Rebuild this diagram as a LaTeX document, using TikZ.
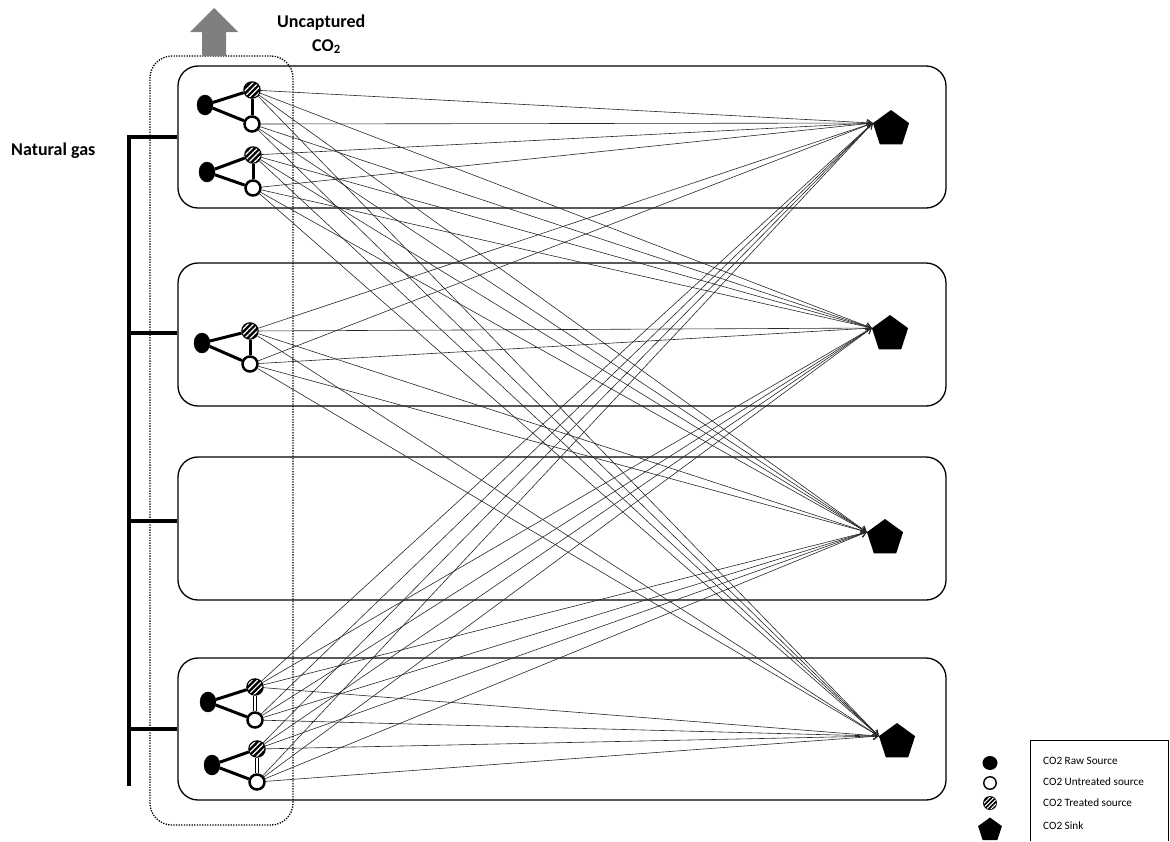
\documentclass[tikz,border=0pt]{standalone}
\usepackage{fontspec}
\setmainfont{Carlito}
\usetikzlibrary{arrows.meta,shapes.geometric,patterns.meta}
\definecolor{arrowgray}{HTML}{7F7F7F}
\begin{document}
\begin{tikzpicture}[x=1pt,y=-1pt,
  region/.style={draw,line width=1.3pt,rounded corners=20pt,minimum width=768pt,inner sep=0pt},
  capture/.style={draw,line width=1.3pt,dash pattern=on 1.3pt off 1.3pt,rounded corners=22pt,inner sep=0pt},
  raw/.style={ellipse,fill=black,draw=black,minimum width=16pt,minimum height=20pt,inner sep=0pt},
  untr/.style={circle,draw=black,fill=white,line width=2.5pt,minimum size=15pt,inner sep=0pt},
  trt/.style={circle,draw=black,line width=2.5pt,minimum size=15pt,inner sep=0pt,fill=black,
    postaction={pattern={Lines[angle=45,distance=3.8pt,line width=1.2pt]},pattern color=white}},
  sinkshape/.style={regular polygon,regular polygon sides=5,fill=black,minimum size=38pt,inner sep=0pt},
  link/.style={line width=3pt},
  dlink/.style={line width=1.3pt,double,double distance=1.6pt},
  flow/.style={line width=0.6pt,draw=black!85,-{Straight Barb[length=5pt,width=7pt]}},
  bus/.style={line width=3.8pt},
  bigtxt/.style={font=\bfseries\fontsize{18}{20}\selectfont,inner sep=0pt},
  legtxt/.style={font=\fontsize{11.2}{13}\selectfont,inner sep=0pt,anchor=west},
]
\useasboundingbox (0,0) rectangle (1170,841);

% regions
\node[region,minimum height=142pt] (box1) at (562,137) {};
\node[region,minimum height=143pt] (box2) at (562,334.5) {};
\node[region,minimum height=143pt] (box3) at (562,528.5) {};
\node[region,minimum height=142pt] (box4) at (562,729) {};

% capture boundary
\node[capture,minimum width=143pt,minimum height=769pt] (capt) at (221.5,440.5) {};
\fill[arrowgray] (202,56) -- (202,32) -- (190,32) -- (214,8) -- (238,32) -- (226,32) -- (226,56) -- cycle;
\node[bigtxt,anchor=base west] (unc1) at (277,27) {Uncaptured};
\node[bigtxt,anchor=base west] (unc2) at (312,51) {CO\textsubscript{2}};

% natural gas bus
\node[bigtxt,anchor=base west] (ng) at (11,155) {Natural gas};
\coordinate (g1) at (129,137);
\coordinate (g2) at (129,333);
\coordinate (g3) at (129,521);
\coordinate (g4) at (129,729);
\coordinate (gend) at (129,786);
\draw[bus] (box1.west |- g1) -- (g1) -- (gend);
\draw[bus] (g2) -- (box2.west |- g2);
\draw[bus] (g3) -- (box3.west |- g3);
\draw[bus] (g4) -- (box4.west |- g4);

% sources
\node[raw] (rA1) at (205,105) {};
\node[trt] (tA1) at (252,90) {};
\node[untr] (uA1) at (252,124) {};
\node[raw] (rA2) at (207,172) {};
\node[trt] (tA2) at (253,155) {};
\node[untr] (uA2) at (253,188) {};
\node[raw] (rB) at (202,343) {};
\node[trt] (tB) at (250,331) {};
\node[untr] (uB) at (250,364) {};
\node[raw] (rD1) at (208,702) {};
\node[trt] (tD1) at (255,687) {};
\node[untr] (uD1) at (255,720) {};
\node[raw] (rD2) at (212,765) {};
\node[trt] (tD2) at (257,749) {};
\node[untr] (uD2) at (257,782) {};

\foreach \c in {A1,A2,B,D1,D2}{
  \draw[link] (r\c) -- (t\c);
  \draw[link] (r\c) -- (u\c);
}
\foreach \c in {A1,A2,B}{
  \draw[link] (t\c) -- (u\c);
}
\foreach \c in {D1,D2}{
  \draw[dlink] (t\c) -- (u\c);
}

% sinks
\node[sinkshape] (s1) at (891,129) {};
\node[sinkshape] (s2) at (890,334) {};
\node[sinkshape] (s3) at (885,538) {};
\node[sinkshape] (s4) at (897,742) {};

\foreach \src in {tA1,uA1,tA2,uA2,tB,uB,tD1,uD1,tD2,uD2}{
  \foreach \snk in {s1,s2,s3,s4}{
    \draw[flow] (\src) -- (\snk.corner 2);
  }
}

% legend
\draw[line width=1pt] (1030,841) -- (1030,740) -- (1168,740) -- (1168,841);
\node[ellipse,fill=black,minimum width=15pt,minimum height=14pt,inner sep=0pt] (lraw) at (990,763) {};
\node[circle,draw=black,fill=white,line width=1.4pt,minimum size=12.5pt,inner sep=0pt] (lunt) at (990,783) {};
\node[circle,draw=black,line width=1.4pt,minimum size=12.5pt,inner sep=0pt,fill=black,
  postaction={pattern={Lines[angle=45,distance=3pt,line width=1pt]},pattern color=white}] (ltrt) at (990,803) {};
\node[regular polygon,regular polygon sides=5,fill=black,minimum size=25pt,inner sep=0pt] (lsnk) at (990,830) {};
\node[legtxt] (t1) at (1043,761) {CO2 Raw Source};
\node[legtxt] (t2) at (1043,782) {CO2 Untreated source};
\node[legtxt] (t3) at (1043,803) {CO2 Treated source};
\node[legtxt] (t4) at (1043,826) {CO2 Sink};
\end{tikzpicture}
\end{document}
